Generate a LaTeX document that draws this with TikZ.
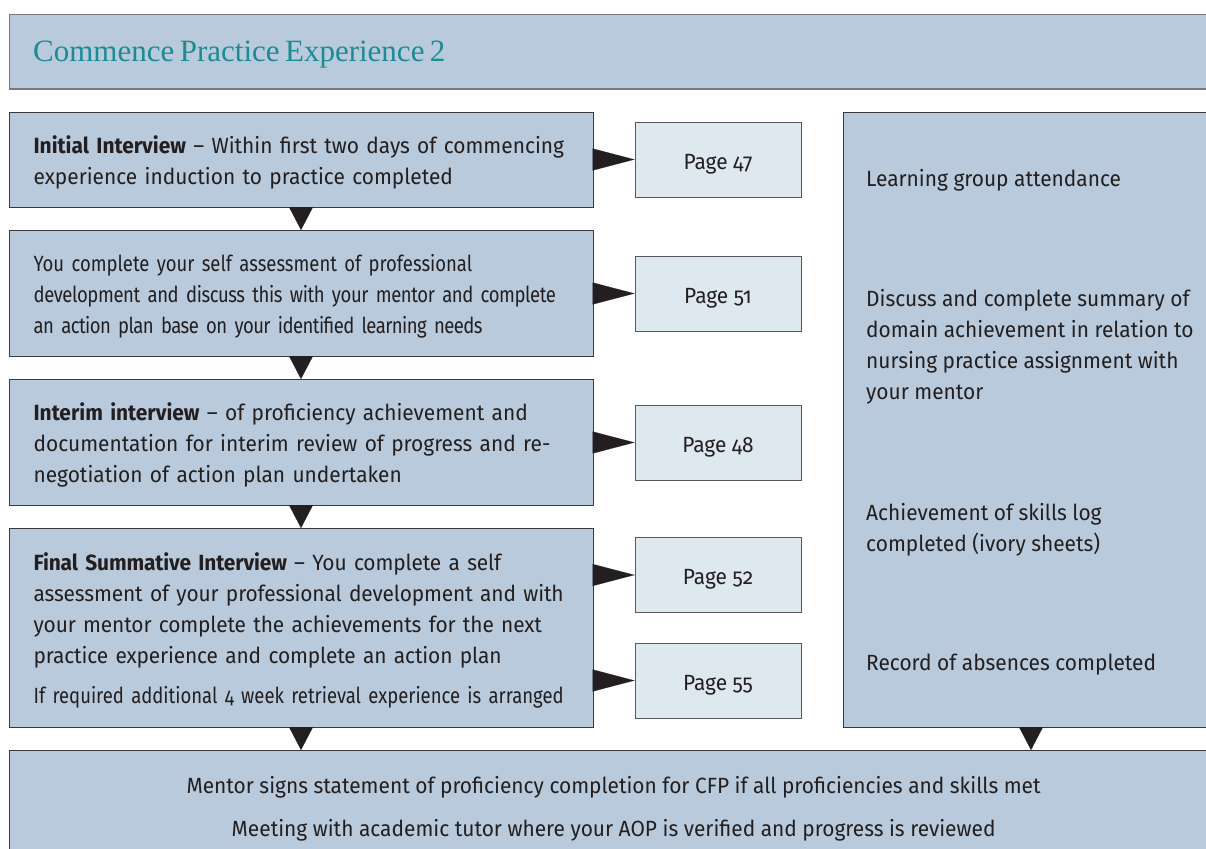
\documentclass[tikz,border=0pt]{standalone}
\usepackage{fontspec}
\setmainfont{Fira Sans}[Numbers=OldStyle, FakeStretch=0.95]
\newfontfamily\tightfont{Fira Sans}[Numbers=OldStyle, FakeStretch=0.84, WordSpace=0.75]
\newfontfamily\titlefont{Liberation Serif}[WordSpace=0.7]
\usetikzlibrary{arrows.meta}

\definecolor{boxfill}{HTML}{B8CADB}
\definecolor{pagefill}{HTML}{DDE8EF}
\definecolor{edge}{HTML}{3A3A3C}
\definecolor{titleedge}{HTML}{77797C}
\definecolor{ink}{HTML}{231F20}
\definecolor{headteal}{HTML}{1B8B95}

\tikzset{
  body/.style={font=\fontsize{22}{31}\selectfont, text=ink},
  % a tall strut on the first line sets the text block a little lower
  stagebox/.style={body, draw=edge, fill=boxfill, line width=1.2pt,
    anchor=north west, align=left, inner xsep=24pt, inner ysep=0pt,
    text width=536pt, minimum width=584pt,
    execute at begin node={\rule{0pt}{22pt}}},
  pagebox/.style={body, draw=edge!85, fill=pagefill, line width=1pt,
    minimum width=166pt, minimum height=75pt, inner sep=0pt,
    execute at begin node={\rule{0pt}{24pt}}},
  sidebox/.style={draw=edge, fill=boxfill, line width=1.2pt, anchor=north west,
    minimum width=420pt, minimum height=615pt, inner sep=0pt},
  sidetext/.style={body, anchor=west, align=left, inner sep=0pt},
  downtip/.style={ink, line width=0.1pt, -{Triangle[length=23pt,width=24pt]}},
  righttip/.style={ink, line width=0.1pt, -{Triangle[length=42pt,width=22pt]}},
}

\begin{document}
\begin{tikzpicture}[x=1pt, y=-1pt]
\useasboundingbox (0,0) rectangle (1206,848);
\clip (0,0) rectangle (1206,848);

% heading band
\node[draw=titleedge, fill=boxfill, line width=1.2pt, anchor=north west,
      minimum width=1250pt, minimum height=74.5pt, inner sep=0pt]
  (head) at (9,14) {};
\node[anchor=base west, inner sep=0pt, text=headteal,
      font=\titlefont\fontsize{31}{34}\selectfont]
  (headtext) at (33,62) {Commence Practice Experience 2};

% left column of stages
\node[stagebox, minimum height=95pt] (b1) at (9,112)
  {\textbf{Initial Interview} – Within first two days of commencing\\
   experience induction to practice completed};
\node[stagebox, minimum height=126pt] (b2) at (9,230)
  {\tightfont\mbox{You complete your self assessment of professional}\\
   \mbox{\addfontfeature{LetterSpace=-1.8}development and discuss this with your mentor and complete}\\
   \mbox{\addfontfeature{LetterSpace=-2.5}an action plan base on your identified learning needs}};
\node[stagebox, minimum height=126pt] (b3) at (9,379)
  {\textbf{Interim interview} – of proficiency achievement and\\
   documentation for interim review of progress and re-\\
   negotiation of action plan undertaken};
\node[stagebox, minimum height=199pt] (b4) at (9,528)
  {\addfontfeature{LetterSpace=-0.6}\textbf{Final Summative Interview} – You complete a self\\
   assessment of your professional development and with\\
   your mentor complete the achievements for the next\\
   practice experience and complete an action plan\\[9pt]
   \mbox{\tightfont If required additional 4 week retrieval experience is arranged}};

% page references
\node[pagebox] (p47) at (718,159.5) {Page 47};
\node[pagebox] (p51) at (718,293.5) {Page 51};
\node[pagebox] (p48) at (718,442.5) {Page 48};
\node[pagebox] (p52) at (718,575)   {Page 52};
\node[pagebox] (p55) at (718,680.5) {Page 55};

% right-hand checklist
\node[sidebox] (side) at (843,112) {};
\node[sidetext] (s1) at (866,180) {Learning group attendance};
\node[sidetext] (s2) at (866,347) {Discuss and complete summary of\\
  domain achievement in relation to\\ nursing practice assignment with\\ your mentor};
\node[sidetext] (s3) at (866,530) {Achievement of skills log\\ completed (ivory sheets)};
\node[sidetext] (s4) at (866,665) {Record of absences completed};

% closing band
\node[draw=edge, fill=boxfill, line width=1.2pt, anchor=north west,
      minimum width=1208pt, minimum height=116pt, align=center, inner sep=0pt,
      font=\fontsize{22}{43}\selectfont, text=ink]
  (end) at (9,750)
  {Mentor signs statement of proficiency completion for CFP if all proficiencies and skills met\\
   Meeting with academic tutor where your AOP is verified and progress is reviewed};

% connectors
\coordinate (spine) at (301,0);
\coordinate (sidespine) at (1031,0);
\draw[downtip] (b1.south -| spine) -- (b2.north -| spine);
\draw[downtip] (b2.south -| spine) -- (b3.north -| spine);
\draw[downtip] (b3.south -| spine) -- (b4.north -| spine);
\draw[downtip] (b4.south -| spine) -- (end.north -| spine);
\draw[downtip] (side.south -| sidespine) -- (end.north -| sidespine);

\draw[righttip] (p47.west -| b1.east) -- (p47.west);
\draw[righttip] (p51.west -| b2.east) -- (p51.west);
\draw[righttip] (p48.west -| b3.east) -- (p48.west);
\draw[righttip] (p52.west -| b4.east) -- (p52.west);
\draw[righttip] (p55.west -| b4.east) -- (p55.west);
\end{tikzpicture}
\end{document}
